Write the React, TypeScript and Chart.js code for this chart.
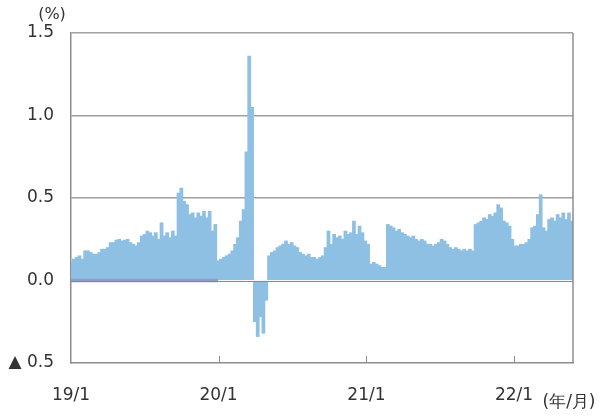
import { useEffect, useRef } from 'react';
import { Chart, registerables } from 'chart.js';

Chart.register(...registerables);

// Weekly series, starting the first week of January 2019 (%)
const START_DATE = '2019-01-01';
const weeklyValues: number[] = [
  0.11, 0.13, 0.14, 0.15, 0.13, 0.18, 0.18, 0.17, 0.16, 0.16,
  0.17, 0.19, 0.19, 0.2, 0.23, 0.23, 0.245, 0.25, 0.24, 0.245,
  0.25, 0.23, 0.22, 0.21, 0.23, 0.27, 0.28, 0.3, 0.29, 0.27,
  0.29, 0.25, 0.35, 0.27, 0.29, 0.26, 0.3, 0.27, 0.53, 0.56,
  0.48, 0.46, 0.4, 0.41, 0.38, 0.41, 0.39, 0.42, 0.38, 0.42,
  0.3, 0.34, 0.12, 0.13, 0.14, 0.15, 0.16, 0.18, 0.22, 0.26,
  0.36, 0.43, 0.78, 1.36, 1.05, -0.25, -0.34, -0.22, -0.32, -0.12,
  0.15, 0.17, 0.18, 0.2, 0.21, 0.22, 0.24, 0.22, 0.23, 0.21,
  0.2, 0.17, 0.16, 0.15, 0.16, 0.14, 0.14, 0.13, 0.14, 0.15,
  0.2, 0.3, 0.22, 0.28, 0.26, 0.27, 0.25, 0.3, 0.28, 0.29,
  0.36, 0.28, 0.33, 0.29, 0.24, 0.22, 0.1, 0.11, 0.1, 0.09,
  0.08, 0.08, 0.34, 0.33, 0.32, 0.3, 0.31, 0.29, 0.28, 0.27,
  0.26, 0.27, 0.25, 0.24, 0.25, 0.24, 0.22, 0.22, 0.21, 0.22,
  0.23, 0.25, 0.24, 0.22, 0.2, 0.19, 0.2, 0.19, 0.18, 0.19,
  0.18, 0.19, 0.18, 0.34, 0.35, 0.36, 0.38, 0.37, 0.4, 0.39,
  0.41, 0.46, 0.44, 0.36, 0.35, 0.33, 0.25, 0.21, 0.21, 0.22,
  0.22, 0.23, 0.25, 0.32, 0.33, 0.4, 0.52, 0.32, 0.3, 0.37,
  0.38, 0.36, 0.4, 0.38, 0.41, 0.37, 0.41, 0.36,
];
// second series: flat at zero through 2019
const baselineValues: number[] = new Array(53).fill(0);

const yearTickDates = ['2019-01-01', '2020-01-01', '2021-01-01', '2022-01-01'];
const yearTickLabels = ['19/1', '20/1', '21/1', '22/1'];
const X_END_DATE = '2022-05-27';
const yTickValues = [-0.5, 0, 0.5, 1.0, 1.5];
const yTickLabels = ['▲ 0.5', '0.0', '0.5', '1.0', '1.5'];

const DAY = 86400000;
const t0 = Date.parse(START_DATE);
const dayOf = (iso: string) => Math.round((Date.parse(iso) - t0) / DAY);
const yearTickDays = yearTickDates.map(dayOf);

const FONT = '"DejaVu Sans", Verdana, sans-serif';

export default function App() {
  const ref = useRef<HTMLCanvasElement | null>(null);

  useEffect(() => {
    if (!ref.current) return;
    const barData = weeklyValues.map((v, i) => ({ x: i * 7, y: v }));
    const baseData = baselineValues.map((v, i) => ({ x: i * 7, y: v }));

    const extras = {
      id: 'extras',
      afterDatasetsDraw(chart: any) {
        const { ctx, chartArea } = chart;
        const xs = chart.scales.x;
        const ys = chart.scales.y;
        ctx.save();
        // zero line
        const y0 = Math.round(ys.getPixelForValue(0)) + 0.5;
        ctx.strokeStyle = '#6f8fb1';
        ctx.lineWidth = 1;
        ctx.beginPath();
        ctx.moveTo(chartArea.left, y0);
        ctx.lineTo(chartArea.right, y0);
        ctx.stroke();
        ctx.restore();
      },
      afterDraw(chart: any) {
        const { ctx, chartArea } = chart;
        const xs = chart.scales.x;
        ctx.save();
        ctx.strokeStyle = '#8c8c8c';
        ctx.lineWidth = 1.5;
        ctx.beginPath();
        ctx.moveTo(chartArea.right, chartArea.top);
        ctx.lineTo(chartArea.right, chartArea.bottom);
        ctx.stroke();
        ctx.lineWidth = 1;
        yearTickDays.slice(1).forEach((d) => {
          const px = Math.round(xs.getPixelForValue(d)) + 0.5;
          ctx.beginPath();
          ctx.moveTo(px, chartArea.bottom);
          ctx.lineTo(px, chartArea.bottom - 7);
          ctx.stroke();
        });
        ctx.fillStyle = '#333';
        ctx.font = `16px ${FONT}`;
        ctx.textAlign = 'center';
        ctx.textBaseline = 'middle';
        ctx.fillText('(%)', 52, 15);
        ctx.font = `17px ${FONT}`;
        ctx.fillText('(年/月)', 569, 403);
        ctx.restore();
      },
    };

    const chart = new Chart(ref.current, {
      type: 'bar',
      data: {
        datasets: [
          {
            type: 'line',
            data: baseData,
            borderColor: '#8e9cc6',
            borderWidth: 3.5,
            pointRadius: 0,
            order: 0,
          } as any,
          {
            type: 'bar',
            data: barData,
            backgroundColor: '#8ec0e4',
            borderWidth: 0,
            barThickness: 3.1,
            order: 1,
          } as any,
        ],
      },
      options: {
        animation: false,
        responsive: true,
        maintainAspectRatio: false,
        layout: { padding: { top: 33, right: 27, left: 0, bottom: 0 } },
        plugins: { legend: { display: false }, tooltip: { enabled: false } },
        scales: {
          x: {
            type: 'linear',
            min: 0,
            max: dayOf(X_END_DATE),
            offset: false,
            grid: { display: false },
            border: { display: true, color: '#8c8c8c', width: 1.5 },
            afterBuildTicks: (axis: any) => {
              axis.ticks = yearTickDays.map((v) => ({ value: v }));
            },
            afterFit: (s: any) => {
              s.height = 54;
            },
            ticks: {
              autoSkip: false,
              maxRotation: 0,
              padding: 14,
              color: '#333',
              font: { family: FONT, size: 17 },
              callback: (v: any) => {
                const k = yearTickDays.indexOf(Number(v));
                return k >= 0 ? yearTickLabels[k] : '';
              },
            },
          },
          y: {
            min: -0.5,
            max: 1.5,
            afterBuildTicks: (axis: any) => {
              axis.ticks = yTickValues.map((v) => ({ value: v }));
            },
            afterFit: (s: any) => {
              s.width = 71;
            },
            grid: {
              drawTicks: false,
              color: (c: any) => (c.tick && (c.tick.value === -0.5 || c.tick.value === 0) ? 'rgba(0,0,0,0)' : '#a0a0a0'),
              lineWidth: 1.5,
            },
            border: { display: true, color: '#8c8c8c', width: 1.5 },
            ticks: {
              padding: 17,
              color: '#333',
              font: { family: FONT, size: 17 },
              callback: (v: any) => {
                const k = yTickValues.indexOf(Number(v));
                return k >= 0 ? yTickLabels[k] : '';
              },
            },
          },
        },
      },
      plugins: [extras],
    } as any);

    return () => chart.destroy();
  }, []);

  return (
    <div style={{ position: 'fixed', left: 0, top: 0, width: 600, height: 417, background: '#fff' }}>
      <canvas ref={ref} />
    </div>
  );
}
